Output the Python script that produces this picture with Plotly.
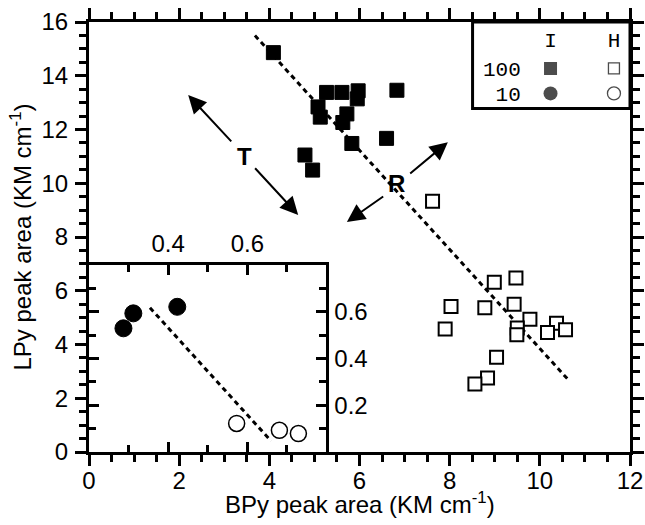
import plotly.graph_objects as go

# ---------------- data ----------------
# Main panel: I (filled squares) and H (open squares), 100 series
i100_x = [4.09, 5.27, 5.61, 5.97, 5.95, 5.08, 5.13, 5.72, 5.63, 5.83, 6.60, 6.83, 4.79, 4.96]
i100_y = [14.86, 13.38, 13.38, 13.44, 13.14, 12.84, 12.46, 12.58, 12.26, 11.48, 11.67, 13.46, 11.05, 10.49]

h100_x = [7.62, 8.99, 9.47, 8.78, 9.43, 9.78, 9.50, 9.49, 10.37, 10.17, 10.57, 9.04, 8.84, 8.56, 8.03, 7.90]
h100_y = [9.33, 6.32, 6.47, 5.37, 5.50, 4.94, 4.61, 4.36, 4.79, 4.45, 4.55, 3.53, 2.75, 2.53, 5.41, 4.58]

fit100_x = [3.68, 10.63]
fit100_y = [15.50, 2.69]

# Inset: I (filled circles) and H (open circles), 10 series
i10_x = [0.287, 0.312, 0.423]
i10_y = [0.529, 0.593, 0.621]
h10_x = [0.573, 0.681, 0.729]
h10_y = [0.122, 0.093, 0.079]
fit10_x = [0.354, 0.660]
fit10_y = [0.617, 0.047]

# Legend grid
legend_cols = ["I", "H"]
legend_rows = ["100", "10"]

# Axis ticks
main_xticks = [0, 2, 4, 6, 8, 10, 12]
main_yticks = [0, 2, 4, 6, 8, 10, 12, 14, 16]
inset_xticks = [0.4, 0.6]
inset_yticks = [0.2, 0.4, 0.6]

FONT = "Liberation Sans, Arial, sans-serif"
MONO = "Liberation Mono, Courier New, monospace"

fig = go.Figure()

# main panel
fig.add_trace(go.Scatter(x=fit100_x, y=fit100_y, mode="lines",
                         line=dict(color="black", width=3, dash="5px,4px"),
                         xaxis="x", yaxis="y", hoverinfo="skip"))
fig.add_trace(go.Scatter(x=i100_x, y=i100_y, mode="markers",
                         marker=dict(symbol="square", size=14, color="black",
                                     line=dict(color="black", width=1)),
                         xaxis="x", yaxis="y"))
fig.add_trace(go.Scatter(x=h100_x, y=h100_y, mode="markers",
                         marker=dict(symbol="square", size=13, color="white",
                                     line=dict(color="black", width=2)),
                         xaxis="x", yaxis="y"))

# inset
fig.add_trace(go.Scatter(x=fit10_x, y=fit10_y, mode="lines",
                         line=dict(color="black", width=3, dash="5px,4px"),
                         xaxis="x2", yaxis="y2", hoverinfo="skip"))
fig.add_trace(go.Scatter(x=i10_x, y=i10_y, mode="markers",
                         marker=dict(symbol="circle", size=17, color="black",
                                     line=dict(color="black", width=1)),
                         xaxis="x2", yaxis="y2"))
fig.add_trace(go.Scatter(x=h10_x, y=h10_y, mode="markers",
                         marker=dict(symbol="circle", size=16, color="white",
                                     line=dict(color="black", width=1.5)),
                         xaxis="x2", yaxis="y2"))

# legend grid (categorical mini-axes)
fig.add_trace(go.Scatter(x=[legend_cols[0]] * 2, y=legend_rows, mode="markers",
                         marker=dict(symbol=["square", "circle"], size=[13, 14], color="black",
                                     line=dict(color="black", width=0)),
                         xaxis="x3", yaxis="y3"))
fig.add_trace(go.Scatter(x=[legend_cols[1]] * 2, y=legend_rows, mode="markers",
                         marker=dict(symbol=["square", "circle"], size=[11, 13], color="white",
                                     line=dict(color="black", width=1.3)),
                         xaxis="x3", yaxis="y3"))

axis_common = dict(showline=True, linewidth=3, linecolor="black", showgrid=False, automargin=False,
                   zeroline=False, tickcolor="black", tickfont=dict(family=FONT, size=24, color="black"))

fig.update_layout(
    width=645, height=525,
    margin=dict(l=89, r=15, t=22, b=73),
    paper_bgcolor="white", plot_bgcolor="white",
    showlegend=False,
    xaxis=dict(**axis_common, domain=[0, 1], range=[0, 12], tickvals=main_xticks,
               ticks="outside", ticklen=11, tickwidth=3, mirror="ticks", ticklabelstandoff=-6,
               minor=dict(dtick=0.5, ticks="outside", ticklen=7, tickwidth=2.5, tickcolor="black"),
               anchor="y"),
    yaxis=dict(**axis_common, domain=[0, 1], range=[0, 16], tickvals=main_yticks,
               ticks="outside", ticklen=11, tickwidth=3, mirror="ticks", ticklabelstandoff=2,
               minor=dict(dtick=0.5, ticks="outside", ticklen=7, tickwidth=2.5, tickcolor="black"),
               title=dict(text="LPy peak area (KM cm<sup>-1</sup>)", standoff=4,
                          font=dict(family=FONT, size=24, color="black")),
               anchor="x"),
    xaxis2=dict(**axis_common, domain=[0, 0.439], range=[0.2, 0.8], tickvals=inset_xticks,
                ticktext=["0.4", "0.6"], side="top", ticks="inside", ticklen=10, tickwidth=3,
                mirror="ticks", anchor="y2",
                minor=dict(dtick=0.1, ticks="inside", ticklen=7, tickwidth=2.5, tickcolor="black")),
    yaxis2=dict(**axis_common, domain=[0, 0.435], range=[0, 0.8], tickvals=inset_yticks,
                ticktext=["0.2", "0.4", "0.6"], side="right", ticks="inside", ticklen=10, tickwidth=3,
                mirror="ticks", anchor="x2",
                minor=dict(dtick=0.1, ticks="inside", ticklen=7, tickwidth=2.5, tickcolor="black")),
    xaxis3=dict(domain=[0.80, 1.0], anchor="y3", type="category", categoryarray=legend_cols,
                categoryorder="array", tickmode="array", tickvals=legend_cols, ticktext=legend_cols,
                range=[-0.453, 1.253], side="top", showline=False, automargin=False,
                showgrid=False, zeroline=False, ticks="", fixedrange=True,
                tickfont=dict(family=MONO, size=21, color="black")),
    yaxis3=dict(domain=[0.799, 0.93], anchor="x3", type="category",
                categoryarray=list(reversed(legend_rows)), categoryorder="array",
                tickmode="array", tickvals=legend_rows, ticktext=legend_rows, automargin=False,
                range=[-0.6, 1.652], showline=False, showgrid=False, zeroline=False, ticks="",
                fixedrange=True, tickfont=dict(family=MONO, size=21, color="black")),
)

# x-axis title (as paper annotation to sit closer to the tick labels)
fig.add_annotation(x=0.5, y=-0.08, xref="paper", yref="paper", xanchor="center", yanchor="top",
                   text="BPy peak area (KM cm<sup>-1</sup>)", showarrow=False,
                   font=dict(family=FONT, size=24, color="black"))

# legend frame
fig.add_shape(type="rect", xref="paper", yref="paper", x0=0.709, x1=1.0, y0=0.799, y1=1.0,
              line=dict(color="black", width=3), fillcolor="rgba(0,0,0,0)", layer="above")

# T and R arrows (each double arrow = two arrows pointing away from its label)
arrow_style = dict(showarrow=True, arrowhead=2, arrowsize=1.8, arrowwidth=2, arrowcolor="black",
                   xref="x", yref="y", axref="x", ayref="y", text=" ", standoff=0, startstandoff=0,
                   font=dict(size=2))
fig.add_annotation(x=2.20, y=13.28, ax=3.20, ay=11.48, **arrow_style)
fig.add_annotation(x=4.64, y=8.82, ax=3.64, ay=10.64, **arrow_style)
fig.add_annotation(x=7.96, y=11.53, ax=7.08, ay=10.30, **arrow_style)
fig.add_annotation(x=5.72, y=8.56, ax=6.57, ay=9.56, **arrow_style)
fig.add_annotation(x=3.45, y=10.98, text="<b>T</b>", showarrow=False, xref="x", yref="y",
                   font=dict(family=FONT, size=24, color="black"))
fig.add_annotation(x=6.83, y=10.0, text="<b>R</b>", showarrow=False, xref="x", yref="y",
                   font=dict(family=FONT, size=24, color="black"))

fig.write_html("out.html")
